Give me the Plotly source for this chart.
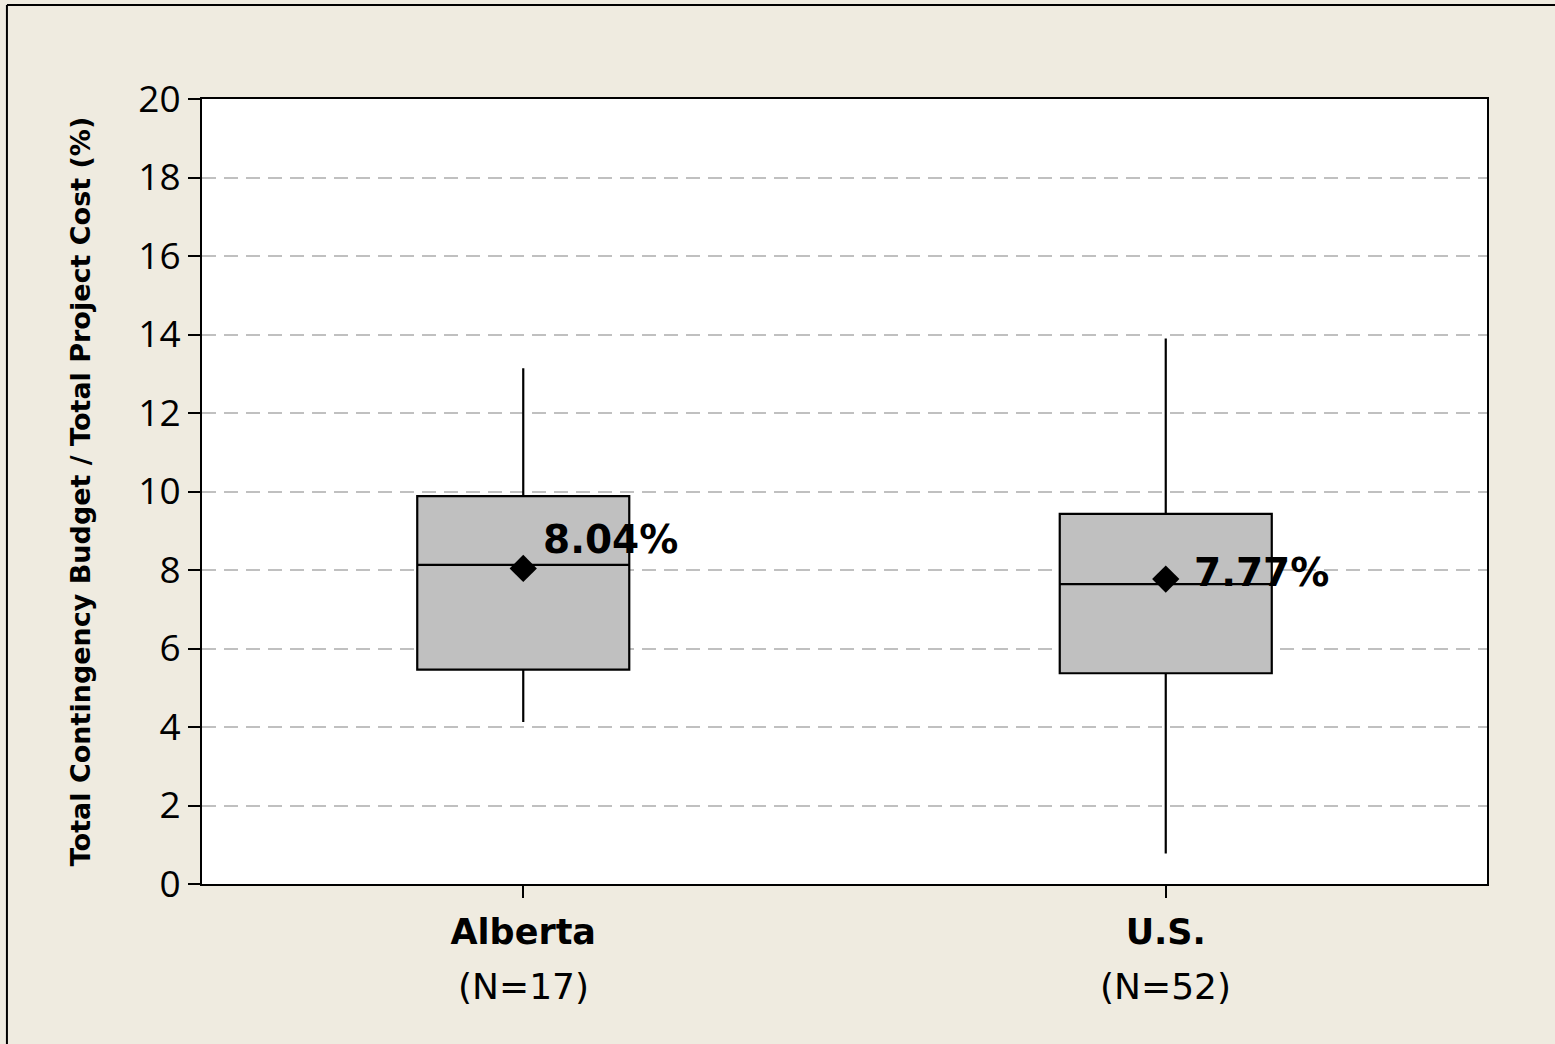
import plotly.graph_objects as go

categories = ["Alberta", "U.S."]
n_counts = [17, 52]
lower_whisker = [4.13, 0.78]
q1 = [5.46, 5.37]
median = [8.13, 7.64]
q3 = [9.88, 9.43]
upper_whisker = [13.14, 13.90]
means = [8.04, 7.77]
y_ticks = [0, 2, 4, 6, 8, 10, 12, 14, 16, 18, 20]

BG = "#EFEBE0"

fig = go.Figure()

for i, c in enumerate(categories):
    fig.add_trace(go.Box(
        x=[c], q1=[q1[i]], median=[median[i]], q3=[q3[i]],
        lowerfence=[lower_whisker[i]], upperfence=[upper_whisker[i]],
        fillcolor="#C0C0C0", line=dict(color="black", width=2.2),
        whiskerwidth=0, width=0.33, boxpoints=False, showlegend=False,
        hoverinfo="skip",
    ))

fig.add_trace(go.Scatter(
    x=categories, y=means, mode="markers",
    marker=dict(symbol="diamond", size=21, color="black"),
    showlegend=False, hoverinfo="skip",
))

label_shifts = [(18, 29), (26, 7)]
for i, c in enumerate(categories):
    fig.add_annotation(
        x=c, y=means[i], text=f"<b>{means[i]:.2f}%</b>", showarrow=False,
        xanchor="left", yanchor="middle",
        xshift=label_shifts[i][0], yshift=label_shifts[i][1],
        font=dict(family="DejaVu Sans", size=39, color="black"),
    )
    fig.add_annotation(
        x=c, y=-0.13, yref="paper", text=f"(N={n_counts[i]})", showarrow=False,
        xanchor="center", yanchor="middle",
        font=dict(family="DejaVu Sans", size=36, color="black"),
    )

# outer border lines (top and left)
fig.add_shape(type="line", xref="paper", yref="paper",
              x0=-0.1518, x1=-0.1518, y0=-0.25, y1=1.1197,
              line=dict(color="black", width=2))
fig.add_shape(type="line", xref="paper", yref="paper",
              x0=-0.1518, x1=1.06, y0=1.1197, y1=1.1197,
              line=dict(color="black", width=2))

fig.update_layout(
    width=1555, height=1044,
    margin=dict(l=202, r=68, t=99, b=160),
    paper_bgcolor=BG, plot_bgcolor="white",
    font=dict(family="Open Sans", color="black"),
    showlegend=False,
)

fig.update_xaxes(
    type="category", categoryorder="array", categoryarray=categories,
    range=[-0.5, 1.5],
    tickvals=categories, ticktext=[f"<b>{c}</b>" for c in categories],
    tickfont=dict(family="DejaVu Sans", size=35, color="black"),
    ticks="outside", ticklen=12, tickwidth=1.5, tickcolor="black",
    showline=True, linecolor="black", linewidth=2, mirror=True,
    showgrid=False, zeroline=False, ticklabelstandoff=4,
)

fig.update_yaxes(
    range=[0, 20], tickvals=y_ticks, ticktext=[str(v) for v in y_ticks],
    tickfont=dict(family="Open Sans", size=37, color="black"),
    ticks="outside", ticklen=12, tickwidth=2, tickcolor="black",
    showline=True, linecolor="black", linewidth=2, mirror=True,
    showgrid=True, gridcolor="#C0C0C0", gridwidth=2, griddash="14px,8px",
    zeroline=False,
    title=dict(text="<b>Total Contingency Budget / Total Project Cost (%)</b>",
               font=dict(family="DejaVu Sans", size=27, color="black"),
               standoff=40),
)

fig.write_html(
    "out.html",
    config={"displayModeBar": False},
    post_script="document.body.style.margin='0px';document.body.style.overflow='hidden';",
)
